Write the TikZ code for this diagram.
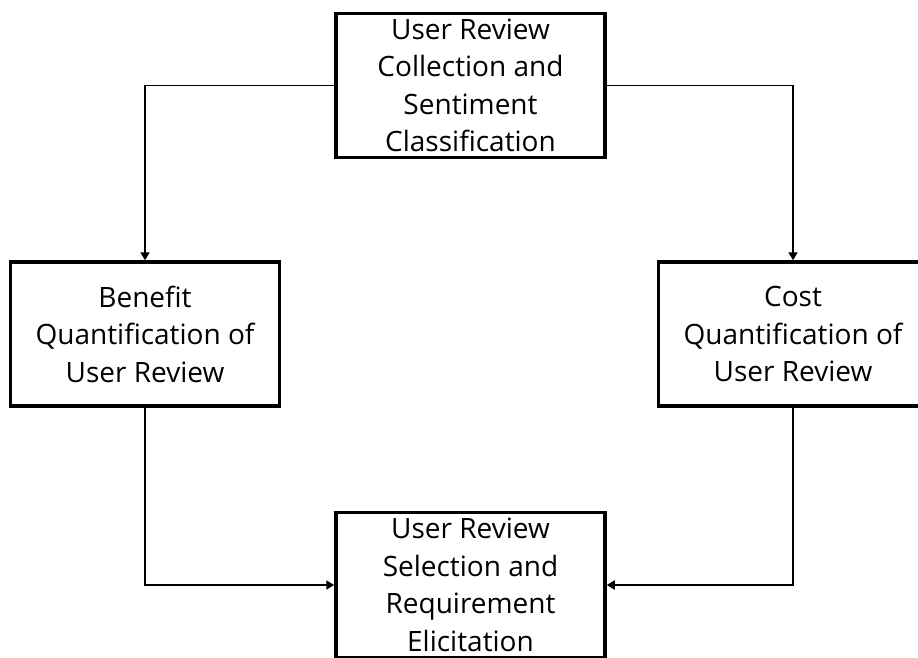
\documentclass[tikz,border=0pt]{standalone}
\usepackage{fontspec}
\setmainfont{Open Sans}
\usetikzlibrary{arrows.meta}
\begin{document}
\begin{tikzpicture}[x=1pt,y=-1pt,
  box/.style={draw=black, line width=3.5pt, minimum width=269pt, minimum height=144pt,
    inner sep=0pt, align=center, font=\fontsize{28}{37.5}\selectfont},
  conn/.style={draw=black, line width=1.8pt, -{Triangle[length=8pt,width=9pt]}}]
\useasboundingbox (0,0) rectangle (918,657);
\clip (0,0) rectangle (918,657);
\node[box] (top) at (470.5,85.5) {User Review\\Collection and\\Sentiment\\Classification};
\node[box] (left) at (145,334) {Benefit\\Quantification of\\User Review};
\node[box] (right) at (793,334) {Cost\\Quantification of\\User Review};
\node[box, minimum height=145pt] (bot) at (470.5,585) {User Review\\Selection and\\Requirement\\Elicitation};
\draw[conn] (top.west) -| (left.north);
\draw[conn] (top.east) -| (right.north);
\draw[conn] (left.south) |- (bot.west);
\draw[conn] (right.south) |- (bot.east);
\end{tikzpicture}
\end{document}
